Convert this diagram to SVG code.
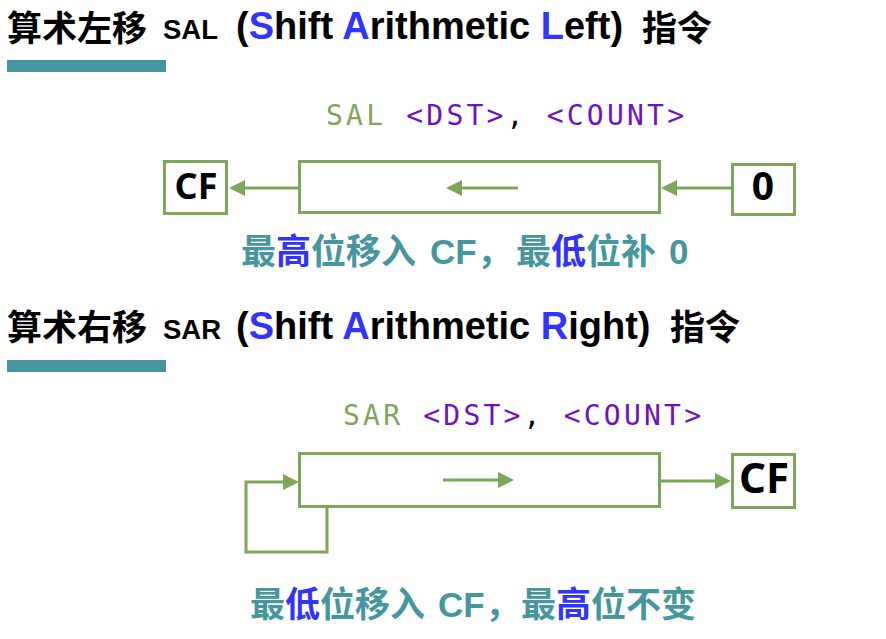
<svg xmlns="http://www.w3.org/2000/svg" width="886" height="639" viewBox="0 0 886 639">
<style>
.cjk{font-family:"Noto Sans CJK SC","Noto Sans",sans-serif;font-weight:bold}
.lat{font-family:"Liberation Sans",Arial,sans-serif;font-weight:bold}
.noto{font-family:"Noto Sans","Liberation Sans",sans-serif;font-weight:bold}
.mono{font-family:"DejaVu Sans Mono","Liberation Mono",monospace}
.box{fill:#fff;stroke:#7ea65a;stroke-width:3}
.ln{fill:none;stroke:#7ea65a;stroke-width:3}
.blue{fill:#3333ff}
.teal{fill:#4696a0}
.grn{fill:#7ea65a}
.pur{fill:#7010c4}
</style>
<defs>
<marker id="ah" markerUnits="userSpaceOnUse" markerWidth="16" markerHeight="16" viewBox="0 0 16 16" refX="0" refY="8" orient="auto">
<path d="M0,0 L16,8 L0,16 z" fill="#7ea65a"/>
</marker>
</defs>

<g id="title1">
<text class="cjk" x="7" y="41" font-size="35">算术左移</text>
<text class="lat" x="163" y="39" font-size="27.5">SAL</text>
<text class="lat" x="236" y="39" font-size="38">(<tspan class="blue">S</tspan>hift <tspan class="blue">A</tspan>rithmetic <tspan class="blue">L</tspan>eft)</text>
<text class="cjk" x="642" y="41" font-size="35">指令</text>
<rect x="7" y="60" width="159" height="12" fill="#4696a0"/>
</g>

<g id="cmd1">
<text class="mono" x="326" y="125" font-size="28" textLength="358" lengthAdjust="spacing"><tspan class="grn">SAL</tspan> <tspan class="pur">&lt;DST&gt;</tspan>, <tspan class="pur">&lt;COUNT&gt;</tspan></text>
</g>

<g id="cf1">
<rect class="box" x="164.5" y="161.5" width="62" height="52"/>
<text class="noto" x="196" y="199" font-size="36" text-anchor="middle">CF</text>
</g>
<g id="reg1">
<rect class="box" x="299.5" y="161.5" width="360" height="51"/>
</g>
<g id="zero">
<rect class="box" x="732.5" y="164.5" width="62" height="50"/>
<text class="noto" x="763" y="200" font-size="39" text-anchor="middle">0</text>
</g>

<g id="caption1">
<text class="cjk teal" x="241" y="264" font-size="35">最<tspan class="blue">高</tspan>位移入</text>
<text class="lat teal" x="430" y="264" font-size="35">CF</text>
<text class="cjk teal" x="477" y="264" font-size="35">，</text>
<text class="cjk teal" x="516" y="264" font-size="35">最<tspan class="blue">低</tspan>位补</text>
<text class="lat teal" x="669" y="264" font-size="35">0</text>
</g>

<g id="title2">
<text class="cjk" x="7" y="340" font-size="35">算术右移</text>
<text class="lat" x="163" y="339" font-size="27.5">SAR</text>
<text class="lat" x="236" y="339" font-size="38">(<tspan class="blue">S</tspan>hift <tspan class="blue">A</tspan>rithmetic <tspan class="blue">R</tspan>ight)</text>
<text class="cjk" x="670" y="340" font-size="35">指令</text>
<rect x="7" y="360" width="159" height="12" fill="#4696a0"/>
</g>

<g id="cmd2">
<text class="mono" x="343" y="425" font-size="28" textLength="358" lengthAdjust="spacing"><tspan class="grn">SAR</tspan> <tspan class="pur">&lt;DST&gt;</tspan>, <tspan class="pur">&lt;COUNT&gt;</tspan></text>
</g>

<g id="reg2">
<rect class="box" x="299.5" y="453.5" width="360" height="53"/>
</g>
<g id="cf2">
<rect class="box" x="732.5" y="454.5" width="62" height="53"/>
<text class="noto" x="764" y="493" font-size="42" text-anchor="middle">CF</text>
</g>

<g id="caption2">
<text class="cjk teal" x="250" y="617" font-size="35">最<tspan class="blue">低</tspan>位移入</text>
<text class="lat teal" x="438" y="617" font-size="35">CF</text>
<text class="cjk teal" x="485" y="617" font-size="35">，</text>
<text class="cjk teal" x="521" y="617" font-size="35">最<tspan class="blue">高</tspan>位不变</text>
</g>

<g id="connectors">
<line class="ln" x1="299" y1="188" x2="245" y2="188" marker-end="url(#ah)"/>
<line class="ln" x1="731" y1="188" x2="677" y2="188" marker-end="url(#ah)"/>
<line class="ln" x1="518" y1="188" x2="462" y2="188" marker-end="url(#ah)"/>
<line class="ln" x1="443" y1="480" x2="498" y2="480" marker-end="url(#ah)"/>
<line class="ln" x1="661" y1="481" x2="715" y2="481" marker-end="url(#ah)"/>
<path class="ln" d="M327,507 V552 H246 V482 H283" marker-end="url(#ah)"/>
</g>
</svg>
